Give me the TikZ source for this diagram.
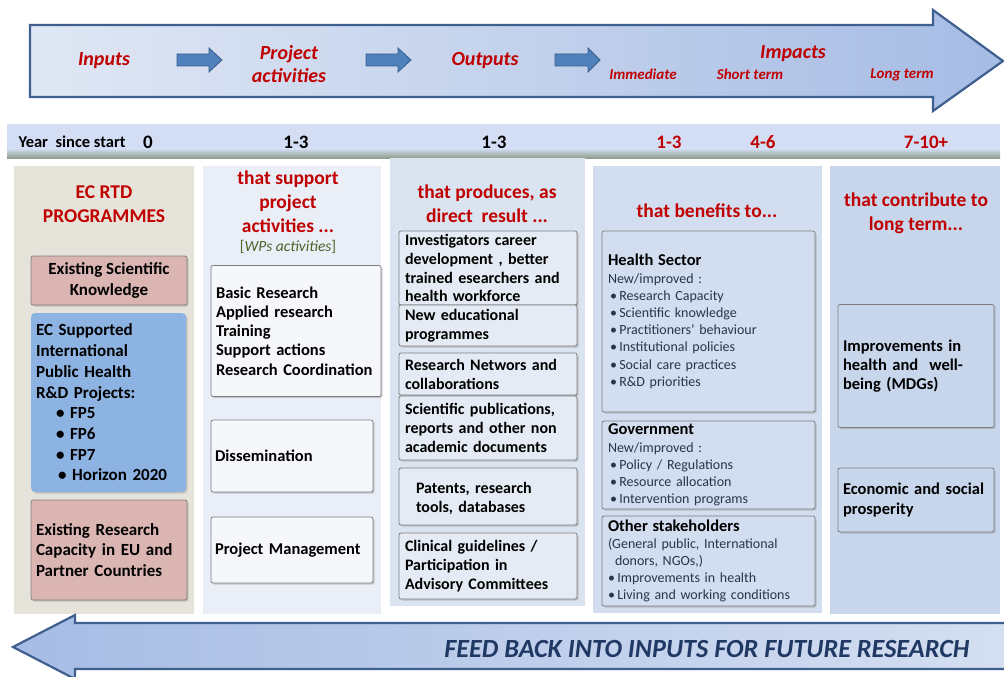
\documentclass[tikz,border=0pt]{standalone}
\usepackage{fontspec}
\setmainfont{Carlito}
\usetikzlibrary{shadows}
\definecolor{hdrred}{HTML}{C00000}
\definecolor{arrowline}{HTML}{3F5F8F}
\definecolor{arrowlight}{HTML}{E0E7F4}
\definecolor{arrowdark}{HTML}{A6BCE4}
\definecolor{blkfill}{HTML}{4F81BD}
\definecolor{blkline}{HTML}{385D8A}
\definecolor{yearbar}{HTML}{D3DEF5}
\definecolor{yearshade}{HTML}{8E9E8C}
\definecolor{colone}{HTML}{E6E4DA}
\definecolor{coltwo}{HTML}{E9EEF7}
\definecolor{colthree}{HTML}{DAE3F0}
\definecolor{colfour}{HTML}{D2DDEF}
\definecolor{colfive}{HTML}{C8D6EC}
\definecolor{pinkbox}{HTML}{DAB5B2}
\definecolor{bluebox}{HTML}{8DB3E2}
\definecolor{boxline}{HTML}{7F7F7F}
\definecolor{olive}{HTML}{4F6228}
\definecolor{listtext}{HTML}{27364A}
\definecolor{feedtext}{HTML}{1F3864}
\tikzset{
  col/.style={draw=none, anchor=north west, inner sep=0pt},
  bx/.style={draw=boxline, line width=0.8pt, rounded corners=2pt, inner sep=0pt,
             drop shadow={shadow xshift=1.5pt, shadow yshift=-1.5pt, opacity=0.35}},
  hdr/.style={text=hdrred, font=\bfseries\fontsize{19.5}{24}\selectfont, align=center},
  toplbl/.style={text=hdrred, font=\bfseries\itshape\fontsize{20}{23}\selectfont, align=center},
  sublbl/.style={text=hdrred, font=\bfseries\itshape\fontsize{15}{18}\selectfont},
  yearlbl/.style={font=\bfseries\fontsize{19}{22}\selectfont},
  txtone/.style={font=\bfseries\fontsize{17}{20.7}\selectfont},
  txttwo/.style={font=\bfseries\fontsize{16.5}{19.2}\selectfont},
  txtthree/.style={font=\bfseries\fontsize{16}{18.9}\selectfont},
  txtfour/.style={font=\fontsize{14}{17.2}\selectfont, text=listtext},
}
\newcommand{\blkarrow}[3]{% x start, head base, tip
  \draw[blkline, fill=blkfill, line width=0.8pt]
    (#1,54) -- (#2,54) -- (#2,48) -- (#3,60) -- (#2,72) -- (#2,66) -- (#1,66) -- cycle;}
\newcommand{\hdbul}{\textbullet\,}
\begin{document}
\begin{tikzpicture}[x=1pt,y=-1pt]
\useasboundingbox (0,0) rectangle (1004,677);
\fill[white] (0,0) rectangle (1004,677);

% ---------- top arrow ----------
\shade[left color=arrowlight, right color=arrowdark]
  (30,25) -- (933,25) -- (933,10) -- (1003,61) -- (933,111) -- (933,97) -- (30,97) -- cycle;
\draw[arrowline, line width=2.2pt, line join=miter]
  (30,25) -- (933,25) -- (933,10) -- (1003,61) -- (933,111) -- (933,97) -- (30,97) -- cycle;
\blkarrow{177}{209}{222}
\blkarrow{366}{398}{411}
\blkarrow{555}{588}{600}

\node[toplbl] (inputs) at (104,61) {Inputs};
\node[toplbl] (projact) at (289,64) {Project\\activities};
\node[toplbl] (outputs) at (485,61) {Outputs};
\node[toplbl] (impacts) at (793,54) {Impacts};
\node[sublbl] (immediate) at (643,74) {Immediate};
\node[sublbl] (shortterm) at (750,74) {Short term};
\node[sublbl] (longterm) at (902,75) {Long term};

% ---------- year bar ----------
\fill[yearbar] (7,124) rectangle (1000,149);
\shade[top color=yearbar, bottom color=yearshade] (7,148.5) rectangle (1000,158);
\node[font=\bfseries\fontsize{16.5}{19}\selectfont, anchor=base west] (yearlabel) at (15,147) {Year\ \ since start};
\node[yearlbl, anchor=base] (y0) at (148,148) {0};
\node[yearlbl, anchor=base] (y1) at (296,148) {1-3};
\node[yearlbl, anchor=base] (y2) at (494,148) {1-3};
\node[yearlbl, anchor=base, text=hdrred] (y3) at (669,148) {1-3};
\node[yearlbl, anchor=base, text=hdrred] (y4) at (763,148) {4-6};
\node[yearlbl, anchor=base, text=hdrred] (y5) at (926,148) {7-10+};

% ---------- columns ----------
\fill[colone]   (14,166) rectangle (194,614);
\fill[coltwo]   (203,166) rectangle (381,614);
\fill[colthree] (390,158) rectangle (585,606);
\fill[colfour]  (593,166) rectangle (822,613);
\fill[colfive]  (830,166) rectangle (1000,614);

% ---------- column 1 ----------
\node[hdr] (h1) at (104,204) {EC RTD\\PROGRAMMES};
\node[bx, fill=pinkbox, minimum width=156pt, minimum height=49pt, txtone, align=center]
  (esk) at (109,280.5) {Existing Scientific\\Knowledge};
\node[bx, draw=none, fill=bluebox, rounded corners=4pt, minimum width=155pt, minimum height=179pt,
  txtone, text width=145pt, align=left]
  (ecproj) at (108.5,402.5) {EC Supported\\International\\Public Health\\R\&D Projects:\\
  \hspace*{20pt}\textbullet\ FP5\\\hspace*{20pt}\textbullet\ FP6\\\hspace*{20pt}\textbullet\ FP7\\\hspace*{22pt}\textbullet\ Horizon 2020};
\node[bx, fill=pinkbox, minimum width=156pt, minimum height=100pt, txtone, text width=146pt, align=left]
  (erc) at (109,550) {Existing Research\\Capacity in EU and\\Partner Countries};

% ---------- column 2 ----------
\node[hdr] (h2) at (288,202) {that support\\project\\activities ...};
\node[font=\fontsize{15.5}{18}\selectfont, text=olive] (wps) at (288,247) {[\textit{WPs activities}]};
\node[bx, fill=white!55!coltwo, minimum width=170pt, minimum height=131pt, txttwo, text width=160pt, align=left]
  (resact) at (296,331) {Basic Research\\Applied research\\Training\\Support actions\\Research Coordination};
\node[bx, fill=white!55!coltwo, minimum width=162pt, minimum height=72pt, txttwo, text width=154pt, align=left]
  (dissem) at (292,456) {Dissemination};
\node[bx, fill=white!55!coltwo, minimum width=162pt, minimum height=66pt, txttwo, text width=154pt, align=left]
  (pm) at (292,550) {Project Management};

% ---------- column 3 ----------
\node[hdr] (h3) at (487,204) {that produces, as\\direct\ \ result ...};
\node[bx, fill=colthree!70!white, minimum width=178pt, minimum height=74pt, txtthree, text width=166pt, align=left]
  (career) at (488,268) {Investigators career\\development , better\\trained esearchers and\\health workforce};
\node[bx, fill=colthree!70!white, minimum width=178pt, minimum height=41pt, txtthree, text width=166pt, align=left]
  (educ) at (488,325.5) {New educational\\programmes};
\node[bx, fill=colthree!70!white, minimum width=178pt, minimum height=42pt, txtthree, text width=166pt, align=left]
  (networks) at (488,374) {Research Networs and\\collaborations};
\node[bx, fill=colthree!70!white, minimum width=178pt, minimum height=64pt, txtthree, text width=166pt, align=left]
  (pubs) at (488,428) {Scientific publications,\\reports and other non\\academic documents};
\node[bx, fill=colthree!70!white, minimum width=178pt, minimum height=57pt, txtthree, text width=166pt, align=left]
  (patents) at (488,496.5) {\\[-4pt]\hspace*{11pt}Patents, research\\\hspace*{11pt}tools, databases};
\node[bx, fill=colthree!70!white, minimum width=178pt, minimum height=66pt, txtthree, text width=166pt, align=left]
  (clinical) at (488,566) {Clinical guidelines /\\Participation in\\Advisory Committees};

% ---------- column 4 ----------
\node[hdr] (h4) at (707,211) {that benefits to...};
\node[bx, fill=colfour, minimum width=213pt, minimum height=181pt, txtfour, text width=201pt, align=left]
  (health) at (708.5,321.5) {{\bfseries\fontsize{16.5}{18}\selectfont\color{black}Health Sector}\\
  New/improved :\\
  \hspace*{2pt}\hdbul Research Capacity\\
  \hspace*{2pt}\hdbul Scientific\ knowledge\\
  \hspace*{2pt}\hdbul Practitioners' behaviour\\
  \hspace*{2pt}\hdbul Institutional policies\\
  \hspace*{2pt}\hdbul Social care practices\\
  \hspace*{2pt}\hdbul R\&D priorities};
\node[bx, fill=colfour, minimum width=213pt, minimum height=88pt, txtfour, text width=201pt, align=left]
  (govt) at (708.5,465) {{\bfseries\fontsize{16.5}{18}\selectfont\color{black}Government}\\
  New/improved :\\
  \hspace*{2pt}\hdbul Policy / Regulations\\
  \hspace*{2pt}\hdbul Resource allocation\\
  \hspace*{2pt}\hdbul Intervention\ programs};
\node[bx, fill=colfour, minimum width=213pt, minimum height=90pt, txtfour, text width=201pt, align=left]
  (other) at (708.5,561) {{\bfseries\fontsize{16.5}{18}\selectfont\color{black}Other stakeholders}\\
  (General public,\ International\\
  \hspace*{7pt}donors, NGOs,)\\
  \hdbul Improvements\ in health\\
  \hdbul Living and working\ conditions};

% ---------- column 5 ----------
\node[hdr] (h5) at (916,213) {that contribute to\\long term...};
\node[bx, fill=colfive, minimum width=156pt, minimum height=123pt, txttwo, text width=146pt, align=left]
  (wellbeing) at (916,366) {Improvements in\\health and\ \ well-\\being (MDGs)};
\node[bx, fill=colfive, minimum width=156pt, minimum height=64pt, txttwo, text width=146pt, align=left]
  (prosperity) at (916,500) {Economic and social\\prosperity};

% ---------- bottom arrow ----------
\shade[left color=arrowdark, right color=arrowlight!80!arrowdark]
  (1010,623) -- (75,623) -- (75,615) -- (13,647) -- (75,679) -- (75,669) -- (1010,669) -- cycle;
\draw[arrowline, line width=2.2pt, line join=miter]
  (1010,623) -- (75,623) -- (75,615) -- (13,647) -- (75,679) -- (75,669) -- (1010,669);
\node[font=\bfseries\itshape\fontsize{26.2}{29}\selectfont, text=feedtext, anchor=east] (feedback) at (973,649)
  {FEED BACK INTO INPUTS FOR FUTURE RESEARCH};
\end{tikzpicture}
\end{document}
